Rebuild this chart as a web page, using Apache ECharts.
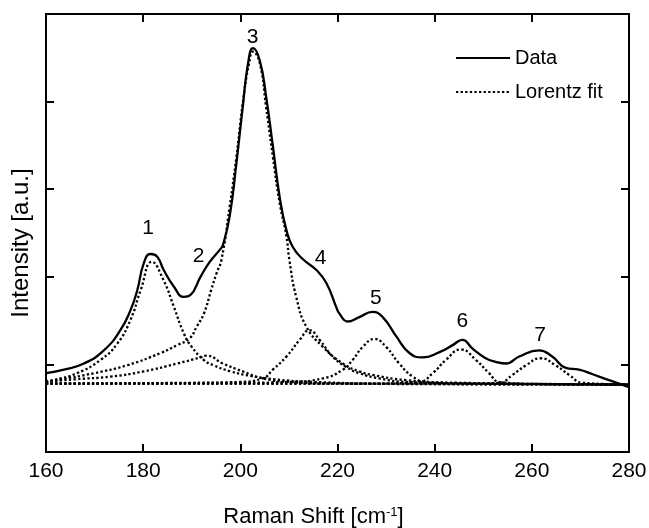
<!DOCTYPE html>
<html>
<head>
<meta charset="utf-8">
<script src="https://cdn.jsdelivr.net/npm/echarts/dist/echarts.min.js"></script>
<style>
  html,body{margin:0;padding:0;background:#fff;}
  #chart{width:649px;height:528px;}
</style>
</head>
<body>
<div id="chart"></div>
<script>
// measured spectrum, [raman shift, intensity]
var dataCurve = [
  [160,0.90],[163.7,0.94],[167.8,1.01],[171.9,1.16],[175.3,1.39],[177.4,1.62],[178.8,1.85],
  [180.1,2.15],[181.5,2.26],[182.9,2.23],[184.2,2.08],[186.3,1.89],[188.4,1.77],[189.7,1.79],
  [191.8,2.00],[193.7,2.17],[195.8,2.31],[196.4,2.36],[197.8,2.69],[199.2,3.30],[200.5,3.94],
  [201.6,4.44],[202.6,4.61],[204.0,4.47],[205.3,4.06],[206.7,3.49],[208.1,2.91],[209.5,2.53],
  [210.8,2.34],[212.9,2.20],[215.6,2.08],[217.7,1.93],[219.7,1.66],[220.4,1.58],[222.1,1.49],
  [224.5,1.54],[227.2,1.60],[229.3,1.54],[232.1,1.32],[234.8,1.13],[237.5,1.08],[241.0,1.14],
  [243.7,1.22],[245.7,1.28],[247.8,1.18],[250.5,1.07],[252.5,1.03],[254.7,1.01],[257.4,1.09],
  [261.5,1.16],[264.2,1.09],[267.0,0.96],[269.7,0.94],[272.4,0.89],[275.9,0.82],[280,0.74]
];

// lorentz components 1..7
var fit1 = [[160,0.80],[161.6,0.82],[166.4,0.90],[171.2,1.05],[174.7,1.24],[177.4,1.51],[179.5,1.85],
  [181.8,2.17],[184.2,1.96],[186.3,1.66],[188.4,1.35],[190.0,1.20],[192.5,1.05],[194.5,0.99],
  [198,0.92],[202,0.87],[207,0.83],[215,0.80],[230,0.78],[280,0.77]];
var fit2 = [[160,0.80],[166,0.83],[173.3,0.86],[180.1,0.92],[187,1.01],[191.8,1.08],[193.0,1.10],
  [196.4,1.01],[200.5,0.92],[204.6,0.84],[210.1,0.80],[220,0.78],[280,0.77]];
var fit3 = [[160,0.81],[163,0.83],[169.9,0.90],[176.7,0.99],[183.6,1.13],[187.0,1.22],[189.6,1.30],
  [191.0,1.43],[192.5,1.58],[194.0,1.85],[195.1,2.04],[196.1,2.19],[197.8,2.80],[199.2,3.37],
  [200.5,3.98],[201.8,4.44],[202.6,4.57],[204.0,4.44],[205.3,3.94],[206.7,3.37],[208.1,2.84],
  [209.5,2.46],[210.1,2.19],[211.5,1.77],[213.6,1.43],[217.0,1.20],[221.1,1.01],[224.5,0.92],
  [227.2,0.88],[234.1,0.82],[245,0.79],[280,0.77]];
var fit4 = [[160,0.78],[190,0.79],[199.9,0.80],[204.6,0.84],[206.7,0.94],[209.5,1.09],[212.2,1.28],
  [214.2,1.39],[216.3,1.28],[219.0,1.09],[221.8,0.97],[224.5,0.90],[228.6,0.84],[234.1,0.80],
  [250,0.78],[280,0.77]];
var fit5 = [[160,0.78],[200,0.79],[210.1,0.80],[217.0,0.84],[221.1,0.94],[223.1,1.05],[225.2,1.20],
  [227.6,1.29],[230.0,1.20],[232.7,1.01],[235.5,0.86],[238.2,0.80],[250,0.78],[280,0.77]];
var fit6 = [[160,0.78],[225,0.78],[236.8,0.80],[239.6,0.90],[242.3,1.05],[245.4,1.17],[248.5,1.05],
  [251.2,0.90],[253.3,0.80],[260,0.78],[280,0.77]];
var fit7 = [[160,0.78],[245,0.78],[253.3,0.79],[256.0,0.88],[258.8,0.99],[261.8,1.07],[264.9,0.99],
  [267.7,0.88],[270.4,0.79],[280,0.77]];

// peak numbers: [x, y, text]
var peakLabels = [
  [181.0,2.55,'1'],[191.4,2.23,'2'],[202.5,4.74,'3'],[216.5,2.21,'4'],
  [227.9,1.75,'5'],[245.7,1.49,'6'],[261.7,1.33,'7']
];

var xTicks = {min:160, max:280, interval:20};
var yTicks = {min:0, max:5, interval:1};

var font = "'Liberation Sans', Arial, sans-serif";

function fitSeries(d){
  return {
    name:'Lorentz fit',
    type:'line',
    data:d,
    smooth:0.5,
    symbol:'none',
    z:2,
    itemStyle:{color:'#000'},
    lineStyle:{color:'#000', width:2.3, type:[2.3,2.3]}
  };
}

function axisBase(pos, showLabel){
  return {
    position:pos,
    axisLine:{show:true, onZero:false, lineStyle:{color:'#000', width:2}},
    axisTick:{show:true, inside:true, length:8, lineStyle:{color:'#000', width:2}},
    axisLabel:{show:showLabel, color:'#000', fontSize:21, fontFamily:font, margin:9},
    splitLine:{show:false}
  };
}

var chart = echarts.init(document.getElementById('chart'));

var xBottom = Object.assign({type:'value'}, xTicks, axisBase('bottom', true), {
  name:'Raman Shift [cm{sup|-1}]',
  nameLocation:'middle',
  nameGap:54,
  nameTextStyle:{color:'#000', fontSize:22, fontFamily:font, padding:[0,48,0,0],
    rich:{sup:{fontSize:13, fontFamily:font, color:'#000', verticalAlign:'top', lineHeight:22}}}
});
var xTop = Object.assign({type:'value'}, xTicks, axisBase('top', false));
var yLeft = Object.assign({type:'value'}, yTicks, axisBase('left', false), {
  name:'Intensity [a.u.]',
  nameLocation:'middle',
  nameGap:13,
  nameTextStyle:{color:'#000', fontSize:24, fontFamily:font, padding:[0,20,0,0]}
});
var yRight = Object.assign({type:'value'}, yTicks, axisBase('right', false));

var option = {
  animation:false,
  grid:{left:46, right:20, top:14, bottom:76, outerBoundsMode:'none', containLabel:false},
  legend:{
    data:['Data','Lorentz fit'],
    orient:'vertical',
    left:450, top:43,
    itemWidth:54, itemHeight:20, itemGap:14,
    itemStyle:{opacity:0},
    textStyle:{color:'#000', fontSize:20, fontFamily:font, lineHeight:20}
  },
  xAxis:[xBottom, xTop],
  yAxis:[yLeft, yRight],
  series:[
    {
      name:'Data',
      type:'line',
      data:dataCurve,
      smooth:0.5,
      symbol:'none',
      z:3,
      itemStyle:{color:'#000'},
      lineStyle:{color:'#000', width:2.3, type:'solid'}
    },
    fitSeries(fit1), fitSeries(fit2), fitSeries(fit3), fitSeries(fit4),
    fitSeries(fit5), fitSeries(fit6), fitSeries(fit7),
    {
      name:'labels',
      type:'scatter',
      data:peakLabels,
      symbolSize:0,
      silent:true,
      itemStyle:{opacity:1, color:'#000'},
      label:{
        show:true, position:'inside', color:'#000', fontSize:21, fontFamily:font,
        textBorderWidth:0,
        formatter:function(p){ return p.value[2]; }
      }
    }
  ]
};

chart.setOption(option);
</script>
</body>
</html>
